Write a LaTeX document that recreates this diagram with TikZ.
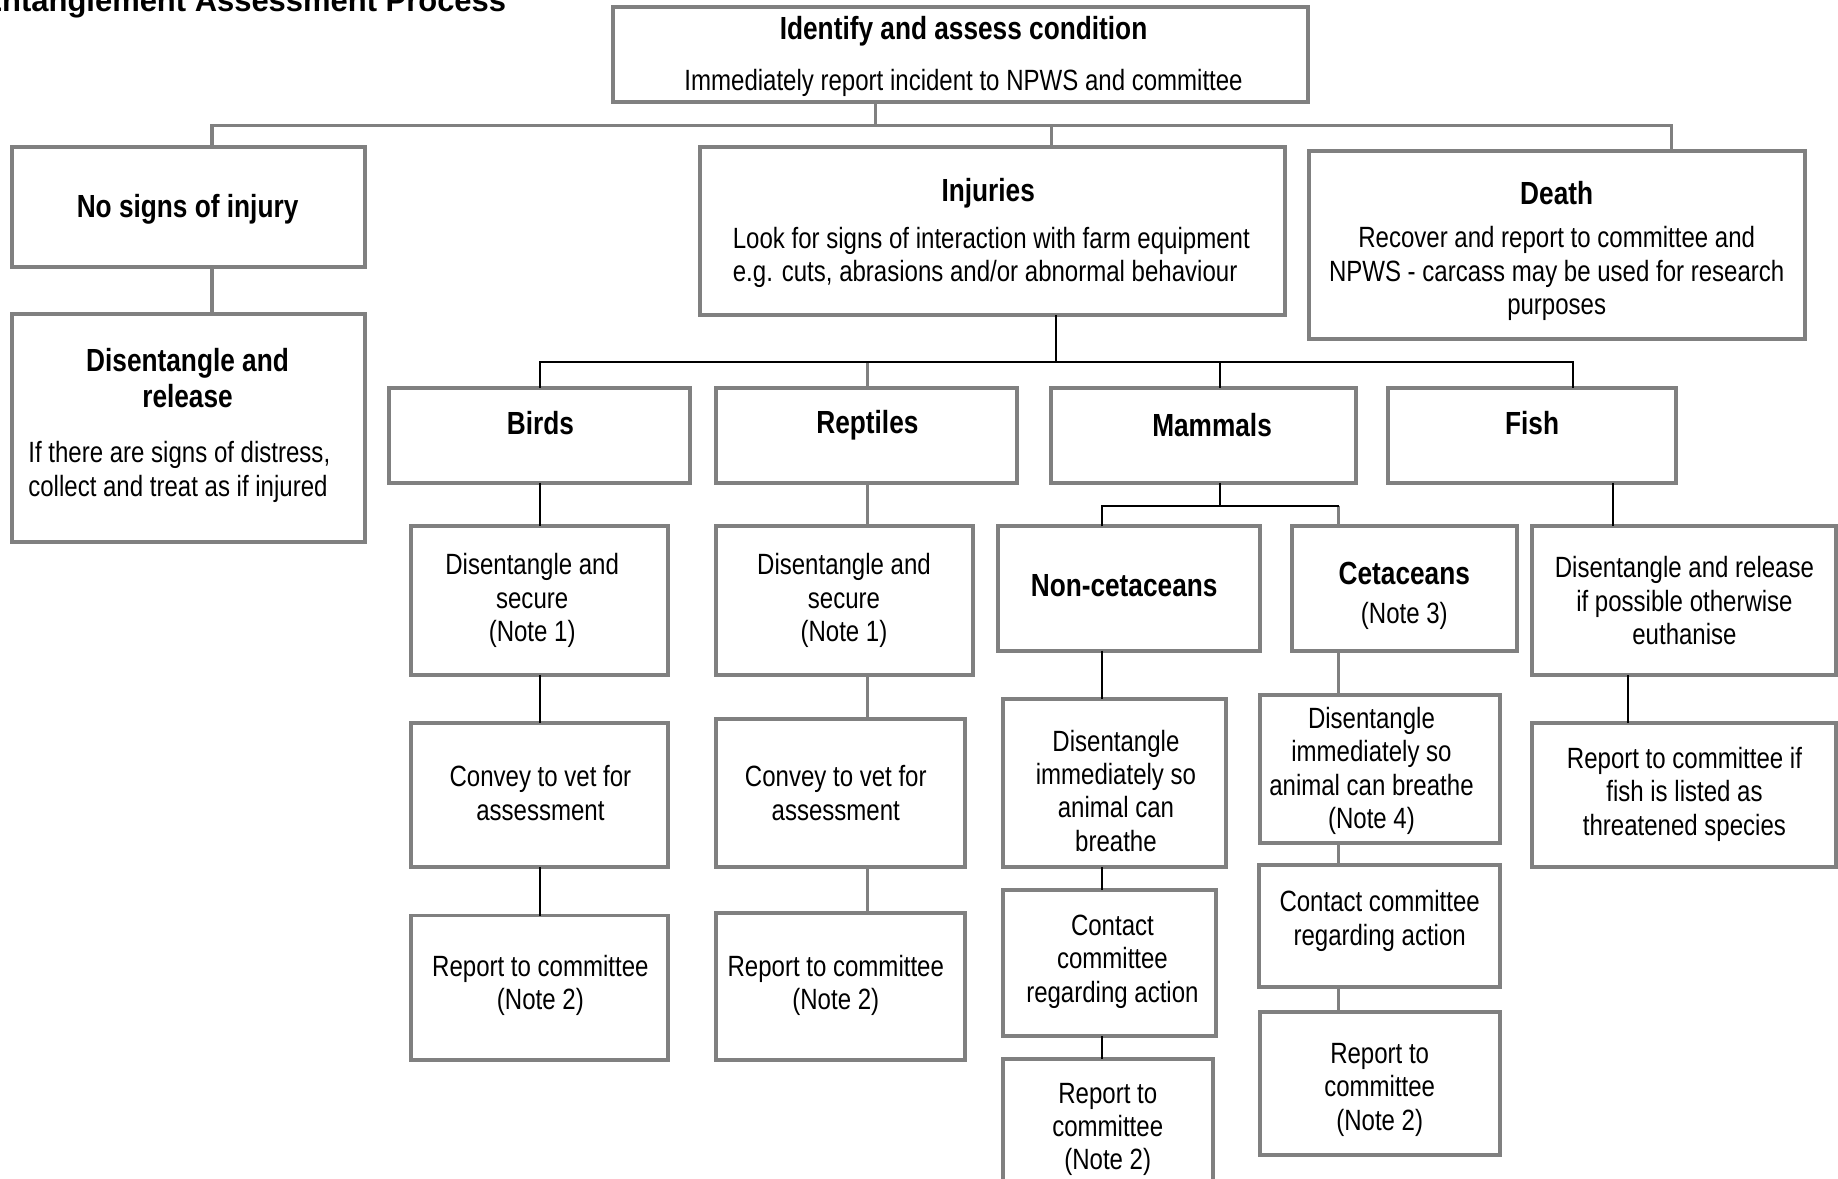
\documentclass[tikz,border=0pt]{standalone}
\usepackage{fontspec}
\setmainfont{Liberation Sans}[FakeStretch=0.82]
\newfontfamily\headfont{Liberation Sans}
\definecolor{boxgray}{RGB}{128,128,128}
\tikzset{
  box/.style={draw=boxgray, line width=3.4pt, rectangle, anchor=north west, inner sep=0pt, outer sep=0pt},
  gconn/.style={draw=boxgray, line width=3pt},
  bconn/.style={draw=black, line width=1.6pt},
  body/.style={align=center, font=\fontsize{25}{28.5}\selectfont, inner sep=0pt, yshift=-2.5pt},
  head/.style={align=center, font=\fontsize{27.3}{31}\selectfont\bfseries, inner sep=0pt, yshift=-2.5pt},
}
\begin{document}
\begin{tikzpicture}[x=1pt,y=-1pt]
\useasboundingbox (0,0) rectangle (1568,1005);

% title (cut by the page edge)
\node[anchor=base east, inner sep=0pt, font=\headfont\fontsize{26.4}{30}\selectfont\bfseries] (title) at (432,10) {Entanglement Assessment Process};

% boxes
\node[box, minimum width=593pt, minimum height=81pt] (top) at (523,6) {};
\node[box, minimum width=301pt, minimum height=103pt] (nosigns) at (10,125) {};
\node[box, minimum width=301pt, minimum height=194pt] (release) at (10,268) {};
\node[box, minimum width=499pt, minimum height=144pt] (injuries) at (597,125) {};
\node[box, minimum width=423pt, minimum height=160pt] (death) at (1117,129) {};
\node[box, minimum width=257pt, minimum height=81pt] (birds) at (332,331) {};
\node[box, minimum width=257pt, minimum height=81pt] (reptiles) at (611,331) {};
\node[box, minimum width=260pt, minimum height=81pt] (mammals) at (897,331) {};
\node[box, minimum width=246pt, minimum height=81pt] (fish) at (1184,331) {};
\node[box, minimum width=219pt, minimum height=127pt] (b1) at (351,449) {};
\node[box, minimum width=219pt, minimum height=123pt] (b2) at (351,617) {};
\node[box, minimum width=219pt, minimum height=123pt] (b3) at (351,781) {};
\node[box, minimum width=219pt, minimum height=127pt] (r1) at (611,449) {};
\node[box, minimum width=212pt, minimum height=127pt] (r2) at (611,613) {};
\node[box, minimum width=212pt, minimum height=125pt] (r3) at (611,779) {};
\node[box, minimum width=224pt, minimum height=106pt] (noncet) at (851,449) {};
\node[box, minimum width=192pt, minimum height=106pt] (cet) at (1102,449) {};
\node[box, minimum width=259pt, minimum height=127pt] (f1) at (1307,449) {};
\node[box, minimum width=259pt, minimum height=123pt] (f2) at (1307,617) {};
\node[box, minimum width=190pt, minimum height=144pt] (n1) at (856,596) {};
\node[box, minimum width=181pt, minimum height=125pt] (n2) at (856,759) {};
\node[box, minimum width=179pt, minimum height=125pt] (n3) at (856,903) {};
\node[box, minimum width=205pt, minimum height=126pt] (c1) at (1075,593) {};
\node[box, minimum width=206pt, minimum height=104pt] (c2) at (1074,738) {};
\node[box, minimum width=205pt, minimum height=122pt] (c3) at (1075,863) {};

% junction coordinates
\coordinate (tj) at (747,107);
\coordinate (tl) at (181,107);
\coordinate (ti) at (897,107);
\coordinate (tr) at (1426,107);
\coordinate (ij) at (901,309);
\coordinate (al) at (461,309);
\coordinate (arp) at (740,309);
\coordinate (am) at (1041,309);
\coordinate (ar) at (1342,309);
\coordinate (mj) at (1041,432);
\coordinate (ml) at (940,432);
\coordinate (mr) at (1142,432);
\coordinate (fx) at (1376,412);
\coordinate (fy) at (1389,576);

% grey connectors
\draw[gconn] (top.south -| tj) -- (tj);
\draw[gconn] (tl |- nosigns.north) -- (tl) -- (tr) -- (tr |- death.north);
\draw[gconn] (ti) -- (ti |- injuries.north);
\draw[gconn] (nosigns.south -| tl) -- (release.north -| tl);
\draw[gconn] (arp) -- (arp |- reptiles.north);
\draw[gconn] (reptiles.south -| arp) -- (r1.north -| arp);
\draw[gconn] (r1.south -| arp) -- (r2.north -| arp);
\draw[gconn] (r2.south -| arp) -- (r3.north -| arp);
\draw[gconn] (mr) -- (mr |- cet.north);
\draw[gconn] (cet.south -| mr) -- (c1.north -| mr);
\draw[gconn] (c1.south -| mr) -- (c2.north -| mr);
\draw[gconn] (c2.south -| mr) -- (c3.north -| mr);

% black connectors
\draw[bconn] (injuries.south -| ij) -- (ij);
\draw[bconn] (al |- birds.north) -- (al) -- (ar) -- (ar |- fish.north);
\draw[bconn] (am) -- (am |- mammals.north);
\draw[bconn] (birds.south -| al) -- (b1.north -| al);
\draw[bconn] (b1.south -| al) -- (b2.north -| al);
\draw[bconn] (b2.south -| al) -- (b3.north -| al);
\draw[bconn] (mammals.south -| mj) -- (mj);
\draw[bconn] (ml |- noncet.north) -- (ml) -- (mr);
\draw[bconn] (noncet.south -| ml) -- (n1.north -| ml);
\draw[bconn] (n1.south -| ml) -- (n2.north -| ml);
\draw[bconn] (n2.south -| ml) -- (n3.north -| ml);
\draw[bconn] (fish.south -| fx) -- (f1.north -| fx);
\draw[bconn] (f1.south -| fy) -- (f2.north -| fy);

% texts
\node[head] (ttop) at (822,24) {Identify and assess condition};
\node[body] (stop) at (822,68) {Immediately report incident to NPWS and committee};
\node[head] (tnosigns) at (160,176) {No signs of injury};
\node[head] (trelease) at (160,320) {Disentangle and\\release};
\node[body, align=left, anchor=west] (srelease) at (24,400) {If there are signs of distress,\\collect and treat as if injured};
\node[head] (tinj) at (843,162) {Injuries};
\node[body, align=left, anchor=west] (sinj) at (625,217) {Look for signs of interaction with farm equipment\\e.g. cuts, abrasions and/or abnormal behaviour};
\node[head] (tdeath) at (1328,162) {Death};
\node[body] (sdeath) at (1328,231) {Recover and report to committee and\\NPWS - carcass may be used for research\\purposes};
\node[head] (tbirds) at (461,358) {Birds};
\node[head] (trept) at (740,360) {Reptiles};
\node[head] (tmamm) at (1034,360) {Mammals};
\node[head] (tfish) at (1307,358) {Fish};
\node[body] (sb1) at (454,510) {Disentangle and\\secure\\(Note 1)};
\node[body] (sr1) at (720,510) {Disentangle and\\secure\\(Note 1)};
\node[body] (sb2) at (461,674) {Convey to vet for\\assessment};
\node[body] (sr2) at (713,674) {Convey to vet for\\assessment};
\node[body] (sb3) at (461,838) {Report to committee\\(Note 2)};
\node[body] (sr3) at (713,838) {Report to committee\\(Note 2)};
\node[head] (tnoncet) at (959,497) {Non-cetaceans};
\node[head] (tcet) at (1198,487) {Cetaceans};
\node[body] (scet) at (1198,523) {(Note 3)};
\node[body] (sf1) at (1437,510) {Disentangle and release\\if possible otherwise\\euthanise};
\node[body] (sf2) at (1437,675) {Report to committee if\\fish is listed as\\threatened species};
\node[body] (sn1) at (952,672) {Disentangle\\immediately so\\animal can\\breathe};
\node[body] (sn2) at (949,818) {Contact\\committee\\regarding action};
\node[body] (sn3) at (945,961) {Report to\\committee\\(Note 2)};
\node[body] (sc1) at (1170,655) {Disentangle\\immediately so\\animal can breathe\\(Note 4)};
\node[body] (sc2) at (1177,783) {Contact committee\\regarding action};
\node[body] (sc3) at (1177,927) {Report to\\committee\\(Note 2)};
\end{tikzpicture}
\end{document}
